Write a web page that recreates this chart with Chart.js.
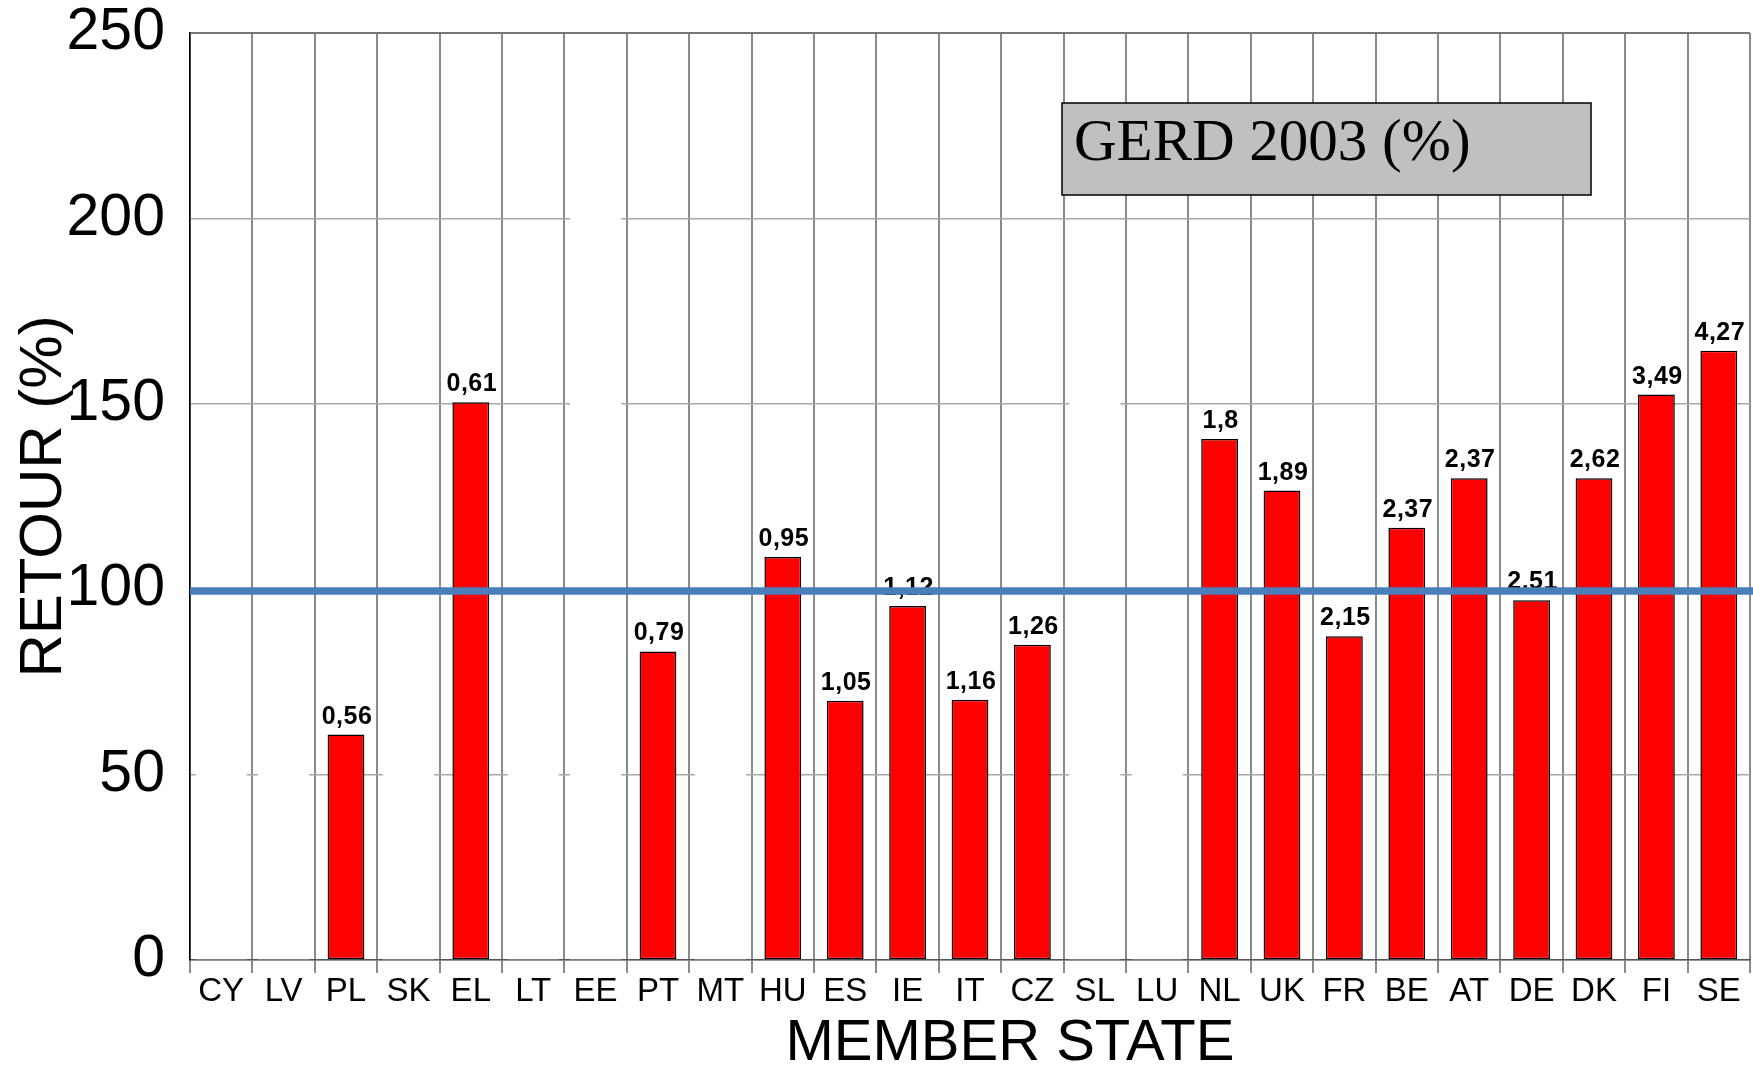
<!DOCTYPE html>
<html>
<head>
<meta charset="utf-8">
<title>GERD 2003 — retour par État membre</title>
<script src="https://cdn.jsdelivr.net/npm/chart.js@4.4.1/dist/chart.umd.min.js"></script>
<style>
  html, body { margin: 0; padding: 0; background: #fff; }
  #wrap { width: 1753px; height: 1071px; position: relative; }
</style>
</head>
<body>
<div id="wrap"><canvas id="chartRetour"></canvas></div>
<script>
// Retour (%) par État membre, avec le GERD 2003 (%) en étiquette sur chaque barre
const categories = ['CY', 'LV', 'PL', 'SK', 'EL', 'LT', 'EE', 'PT', 'MT', 'HU', 'ES', 'IE', 'IT', 'CZ',
  'SL', 'LU', 'NL', 'UK', 'FR', 'BE', 'AT', 'DE', 'DK', 'FI', 'SE'];
const retourValues = [null, null, 60.8, null, 150.4, null, null, 83.2, null, 108.7, 69.9, 95.5, 70.2, 85.0,
  null, null, 140.5, 126.6, 87.3, 116.6, 129.9, 97.0, 129.9, 152.5, 164.3];
const gerdLabels = ['', '', '0,56', '', '0,61', '', '', '0,79', '', '0,95', '1,05', '1,12', '1,16', '1,26',
  '', '', '1,8', '1,89', '2,15', '2,37', '2,37', '2,51', '2,62', '3,49', '4,27'];
// barres masquées (blanches) de l'original
const hiddenValues = [110, 95, null, 67, null, 84, 226, null, 90, null, null, null, null, null,
  176, 95, null, null, null, null, null, null, null, null, null];
const yTicks = [0, 50, 100, 150, 200, 250];
// ligne de référence 100 %
const refLineX = [-0.5, 24.55];
const refLineY = [99.5, 99.5];
const greenLineX = [-0.5, 3.7];
const greenLineY = [100, 100];

const FONT = "'Liberation Sans', Arial, Helvetica, sans-serif";

const toPoints = (xs, ys) => xs.map((x, i) => ({ x: x, y: ys[i] }));

// étiquettes au-dessus des barres rouges (dessinées sous la ligne bleue)
const barLabels = {
  id: 'barLabels',
  afterDatasetDraw(chart, args) {
    if (args.index !== 0) return;
    const ctx = chart.ctx;
    ctx.save();
    ctx.font = 'bold 25px ' + FONT;
    ctx.letterSpacing = '0.5px';
    ctx.fillStyle = '#000';
    ctx.textAlign = 'center';
    ctx.textBaseline = 'alphabetic';
    args.meta.data.forEach((bar, i) => {
      if (retourValues[i] == null || !gerdLabels[i]) return;
      ctx.fillText(gerdLabels[i], bar.x + 1, bar.y - 11);
    });
    ctx.restore();
  }
};

// encadré gris + titre de l'axe X
const decorations = {
  id: 'decorations',
  afterDraw(chart) {
    const ctx = chart.ctx;
    const a = chart.chartArea;
    ctx.save();
    ctx.fillStyle = '#c0c0c0';
    ctx.strokeStyle = '#000';
    ctx.lineWidth = 1.5;
    ctx.fillRect(1062, 103, 529, 92);
    ctx.strokeRect(1062, 103, 529, 92);
    ctx.fillStyle = '#000';
    ctx.font = "59px 'Liberation Serif', 'Times New Roman', serif";
    ctx.textAlign = 'left';
    ctx.textBaseline = 'alphabetic';
    ctx.fillText('GERD 2003 (%)', 1074, 160);

    ctx.font = '58px ' + FONT;
    ctx.textAlign = 'center';
    ctx.textBaseline = 'middle';
    ctx.fillText('MEMBER STATE', a.left + (a.right - a.left) * 0.5256, 1044);
    ctx.restore();
  }
};

new Chart(document.getElementById('chartRetour'), {
  type: 'bar',
  data: {
    labels: categories,
    datasets: [
      {
        label: 'Retour',
        data: retourValues,
        backgroundColor: '#ff0000',
        borderColor: '#000',
        borderWidth: 1.5,
        borderSkipped: false,
        barPercentage: 0.59,
        categoryPercentage: 1,
        grouped: false,
        order: 2
      },
      {
        label: 'masqué',
        data: hiddenValues,
        backgroundColor: '#ffffff',
        borderWidth: 0,
        barPercentage: 0.82,
        categoryPercentage: 1,
        grouped: false,
        order: 3
      },
      {
        type: 'line',
        label: '100 %',
        data: toPoints(refLineX, refLineY),
        xAxisID: 'xLine',
        borderColor: '#4a7ebb',
        borderWidth: 7.5,
        pointRadius: 0,
        clip: { left: 0, top: 0, right: 5, bottom: 0 },
        order: 1
      },
      {
        type: 'line',
        label: 'vert',
        data: toPoints(greenLineX, greenLineY),
        xAxisID: 'xLine',
        borderColor: '#3cc43c',
        borderWidth: 1.5,
        pointRadius: 0,
        order: 4
      }
    ]
  },
  options: {
    responsive: true,
    maintainAspectRatio: false,
    animation: false,
    layout: { padding: { top: 33, right: 3, left: 0, bottom: 0 } },
    plugins: { legend: { display: false }, tooltip: { enabled: false } },
    scales: {
      x: {
        grid: { offset: true, color: '#8a8a8a', lineWidth: 2, drawTicks: true, tickLength: 13 },
        border: { color: '#555', width: 1.5 },
        ticks: { color: '#000', font: { family: FONT, size: 33, lineHeight: 1 }, padding: 2, maxRotation: 0, autoSkip: false },
        afterFit(scale) { scale.height = 111; }
      },
      xLine: {
        type: 'linear',
        display: false,
        min: -0.5,
        max: 24.5,
        offset: false
      },
      y: {
        min: 0,
        max: 250,
        afterBuildTicks(scale) { scale.ticks = yTicks.map(v => ({ value: v })); },
        grid: {
          drawTicks: true,
          tickLength: 25,
          tickColor: 'rgba(0,0,0,0)',
          color: ctx => (ctx.tick && ctx.tick.value === 250 ? '#777' : '#a8a8a8'),
          lineWidth: ctx => (ctx.tick && ctx.tick.value === 250 ? 2 : 1.5)
        },
        border: { color: '#000', width: 1.5 },
        ticks: { color: '#000', font: { family: FONT, size: 59, lineHeight: 1 }, padding: 0 },
        title: {
          display: true,
          text: 'RETOUR (%)',
          color: '#000',
          font: { family: FONT, size: 60, lineHeight: 1 },
          padding: { top: 14, bottom: 0 }
        },
        afterFit(scale) { scale.width = 190; }
      }
    }
  },
  plugins: [barLabels, decorations]
});
</script>
</body>
</html>
